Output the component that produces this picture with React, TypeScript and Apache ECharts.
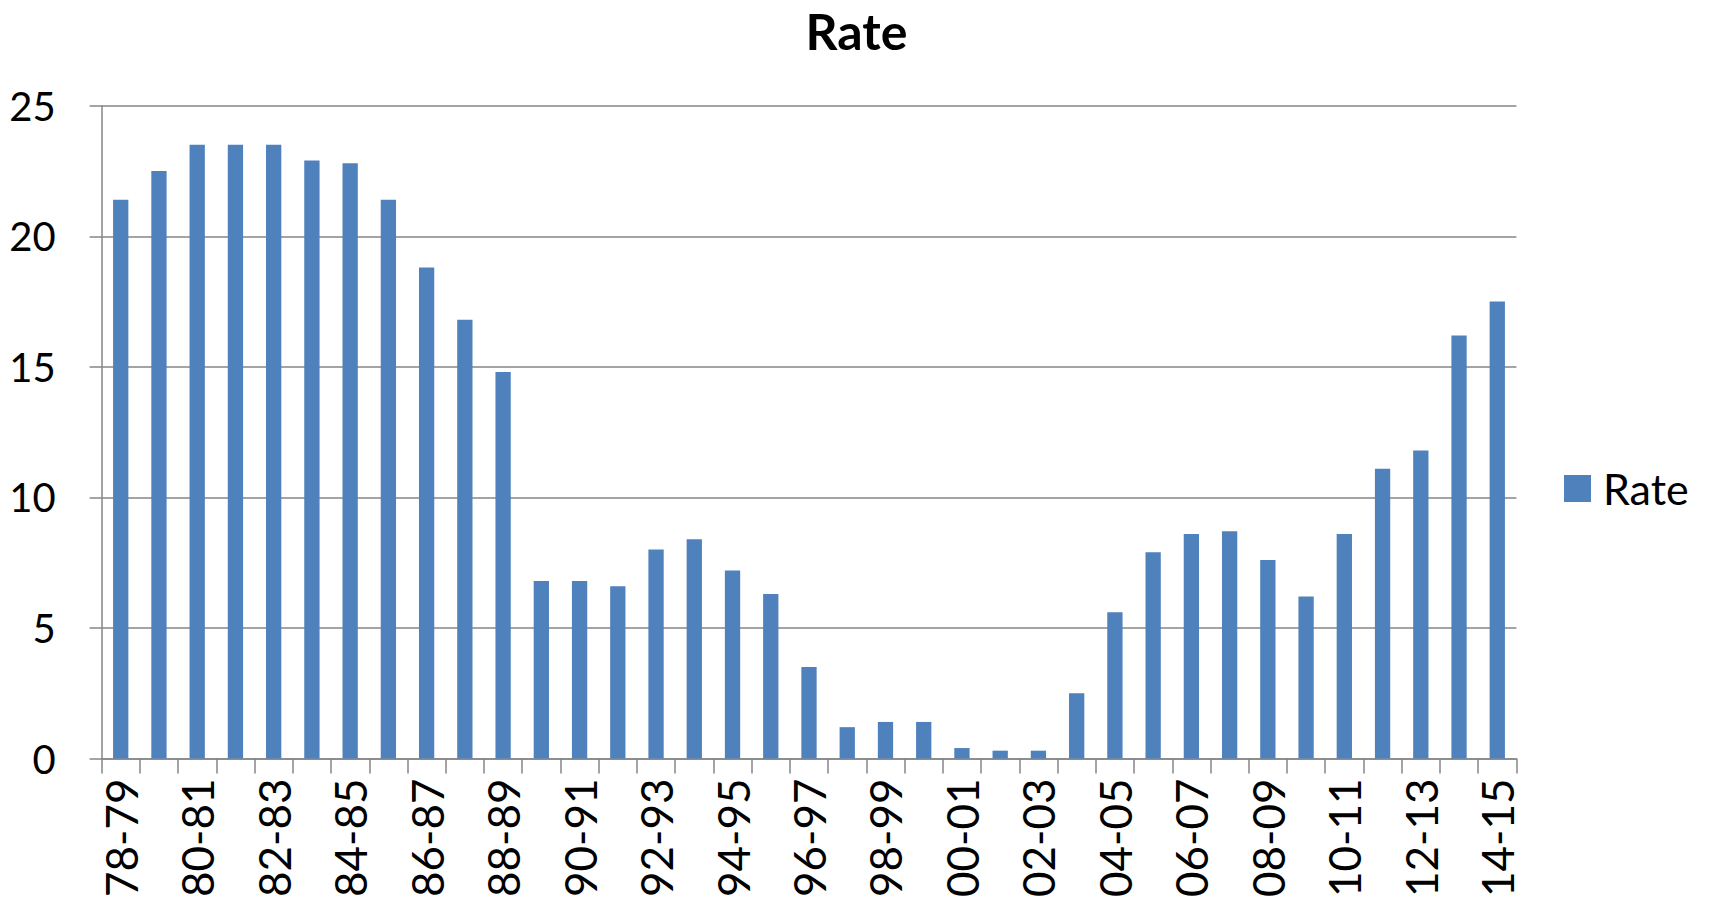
import React, { useEffect, useRef } from "react";
import * as echarts from "echarts";

const categories: string[] = [
  "78-79", "79-80", "80-81", "81-82", "82-83", "83-84", "84-85", "85-86", "86-87", "87-88",
  "88-89", "89-90", "90-91", "91-92", "92-93", "93-94", "94-95", "95-96", "96-97", "97-98",
  "98-99", "99-00", "00-01", "01-02", "02-03", "03-04", "04-05", "05-06", "06-07", "07-08",
  "08-09", "09-10", "10-11", "11-12", "12-13", "13-14", "14-15",
];

const rateValues: number[] = [
  21.4, 22.5, 23.5, 23.5, 23.5, 22.9, 22.8, 21.4, 18.8, 16.8,
  14.8, 6.8, 6.8, 6.6, 8.0, 8.4, 7.2, 6.3, 3.5, 1.2,
  1.4, 1.4, 0.4, 0.3, 0.3, 2.5, 5.6, 7.9, 8.6, 8.7,
  7.6, 6.2, 8.6, 11.1, 11.8, 16.2, 17.5,
];

const yMin = 0;
const yMax = 25;
const yInterval = 5;

const FONT = "Lato, 'Open Sans', sans-serif";
const GRID_COLOR = "#868686";
const BAR_COLOR = "#4F81BD";

export default function App() {
  const ref = useRef<HTMLDivElement>(null);

  useEffect(() => {
    if (!ref.current) return;
    const chart = echarts.init(ref.current, undefined, { renderer: "svg" });
    chart.setOption({
      animation: false,
      backgroundColor: "#ffffff",
      title: {
        text: "Rate",
        left: "center",
        top: 0,
        padding: [6, 5, 5, 5],
        textStyle: { fontFamily: FONT, fontWeight: "bold", fontSize: 50, color: "#000" },
      },
      legend: {
        data: ["Rate"],
        left: 1559,
        top: 462,
        orient: "vertical",
        icon: "rect",
        itemWidth: 27,
        itemHeight: 27,
        textStyle: { fontFamily: FONT, fontSize: 43, color: "#000", padding: [0, 0, 0, 7] },
      },
      grid: {
        left: 101.6,
        right: 196.6,
        top: 105.7,
        bottom: 145.5,
        outerBoundsMode: "none",
      },
      xAxis: {
        type: "category",
        data: categories,
        axisLine: { show: true, lineStyle: { color: GRID_COLOR, width: 1.5 } },
        axisTick: { show: true, interval: 0, length: 15, lineStyle: { color: GRID_COLOR, width: 1.5 } },
        axisLabel: {
          interval: 1,
          rotate: 90,
          margin: 20,
          fontFamily: FONT,
          fontSize: 44,
          color: "#000",
        },
      },
      yAxis: {
        type: "value",
        min: yMin,
        max: yMax,
        interval: yInterval,
        axisLine: { show: true, lineStyle: { color: GRID_COLOR, width: 1.5 } },
        axisTick: { show: true, length: 12, lineStyle: { color: GRID_COLOR, width: 1.5 } },
        splitLine: { show: true, lineStyle: { color: GRID_COLOR, width: 1.5 } },
        axisLabel: { margin: 46, fontFamily: FONT, fontSize: 40, color: "#000" },
      },
      series: [
        {
          name: "Rate",
          type: "bar",
          data: rateValues,
          barCategoryGap: "60%",
          itemStyle: { color: BAR_COLOR },
        },
      ],
    });
    return () => chart.dispose();
  }, []);

  return (
    <div
      ref={ref}
      style={{ position: "fixed", left: 0, top: 0, width: 1713, height: 904 }}
    />
  );
}
